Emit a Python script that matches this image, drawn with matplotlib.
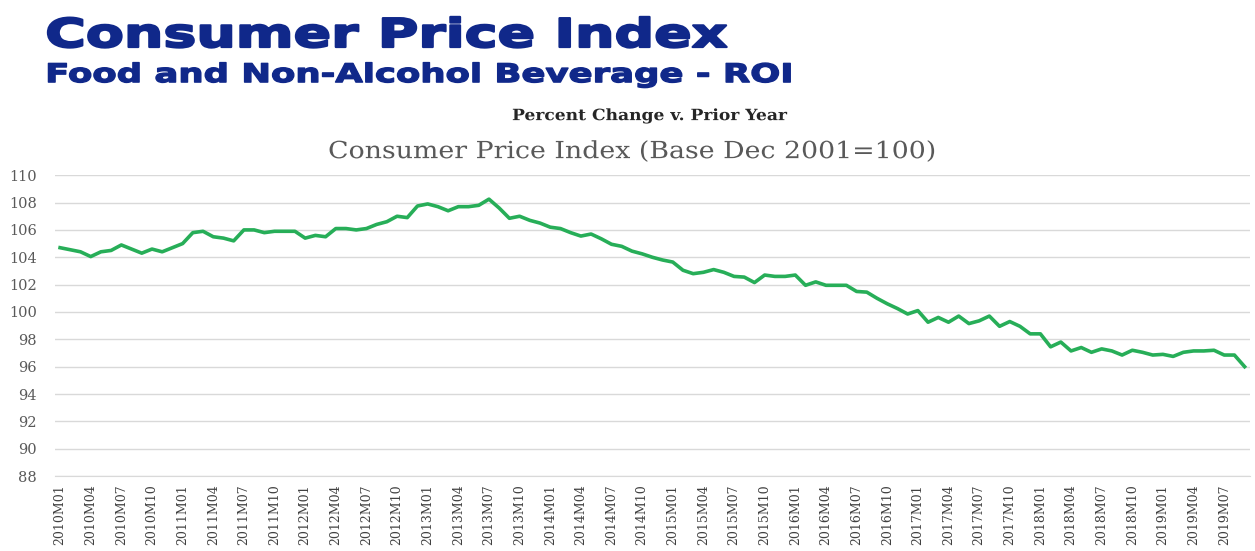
import matplotlib
matplotlib.use("Agg")
import matplotlib.pyplot as plt
from matplotlib.patheffects import AbstractPathEffect
from matplotlib.transforms import Affine2D

years = list(range(2010, 2020))
months = [f"{y}M{m:02d}" for y in years for m in range(1, 13)][:117]

cpi_2010_2012 = [104.7, 104.55, 104.4, 104.05, 104.4, 104.5, 104.9, 104.6, 104.3, 104.6, 104.4, 104.7,
                 105.0, 105.8, 105.9, 105.5, 105.4, 105.2, 106.0, 106.0, 105.8, 105.9, 105.9, 105.9,
                 105.4, 105.6, 105.5, 106.1, 106.1, 106.0, 106.1, 106.4, 106.6, 107.0, 106.9, 107.75]
cpi_2013_2016 = [107.9, 107.7, 107.4, 107.7, 107.7, 107.8, 108.25, 107.6, 106.85, 107.0, 106.7, 106.5,
                 106.2, 106.1, 105.8, 105.55, 105.7, 105.35, 104.95, 104.8, 104.45, 104.25, 104.0, 103.8,
                 103.65, 103.05, 102.8, 102.9, 103.1, 102.9, 102.6, 102.55, 102.15, 102.7, 102.6, 102.6,
                 102.7, 101.95, 102.2]
cpi_2016_2019 = [101.95, 101.95, 101.95, 101.5, 101.45, 101.0, 100.6, 100.25, 99.85, 100.1,
                 99.25, 99.6, 99.25, 99.7, 99.15, 99.35, 99.7, 98.95, 99.3, 98.95,
                 98.4, 98.4, 97.45, 97.8, 97.15, 97.4, 97.05, 97.3, 97.15, 96.85,
                 97.2, 97.05, 96.85, 96.9, 96.75, 97.05, 97.15, 97.15, 97.2, 96.85,
                 96.85, 96.0]
cpi = cpi_2010_2012 + cpi_2013_2016 + cpi_2016_2019

y_ticks = list(range(88, 111, 2))


class Stretch(AbstractPathEffect):
    """Stretch text glyphs horizontally, optionally emboldened (text stays a real Text artist)."""
    def __init__(self, sx, stroke=0.0):
        super().__init__()
        self.sx = sx
        self.stroke = stroke

    def draw_path(self, renderer, gc, tpath, affine, rgbFace=None):
        tr = Affine2D().scale(self.sx, 1.0) + affine
        if self.stroke > 0 and rgbFace is not None:
            gc0 = renderer.new_gc()
            gc0.copy_properties(gc)
            gc0.set_linewidth(self.stroke)
            gc0.set_foreground(rgbFace)
            gc0.set_joinstyle("round")
            renderer.draw_path(gc0, tpath, tr, rgbFace)
            gc0.restore()
        else:
            renderer.draw_path(gc, tpath, tr, rgbFace)


fig = plt.figure(figsize=(12.55, 5.51), dpi=100)
ax = fig.add_axes([0.0438, 0.136, 0.952, 0.546])

x = list(range(len(cpi)))
ax.plot(x, cpi, color="#27ae58", lw=2.6, solid_joinstyle="round")
ax.set_xlim(-0.5, len(cpi) - 0.5)
ax.set_ylim(88, 110)
ax.set_yticks(y_ticks)
ax.set_yticklabels([str(v) for v in y_ticks], family="DejaVu Serif", fontsize=10.5, color="#595959")
ax.set_xticks(x[::3])
ax.set_xticklabels(months[::3], rotation=90, family="DejaVu Serif", fontsize=9, color="#404040")
ax.grid(axis="y", color="#d9d9d9", lw=1)
ax.set_axisbelow(True)
for s in ["top", "right", "left"]:
    ax.spines[s].set_visible(False)
ax.spines["bottom"].set_color("#d9d9d9")
ax.tick_params(axis="both", length=0)
ax.tick_params(axis="y", pad=13)
ax.tick_params(axis="x", pad=6)

navy = "#10288a"
fig.text(0.036, 0.9147, "Consumer Price Index", family="DejaVu Sans", fontweight="bold",
         fontsize=28.5, color=navy, ha="left", va="baseline", path_effects=[Stretch(1.40, 1.6)])
fig.text(0.036, 0.851, "Food and Non-Alcohol Beverage - ROI", family="DejaVu Sans", fontweight="bold",
         fontsize=18.5, color=navy, ha="left", va="baseline", path_effects=[Stretch(1.38, 1.0)])
fig.text(0.408, 0.782, "Percent Change v. Prior Year", family="DejaVu Serif", fontweight="bold",
         fontsize=11.2, color="#262626", ha="left", va="baseline", path_effects=[Stretch(1.1)])
fig.text(0.2614, 0.713, "Consumer Price Index (Base Dec 2001=100)", family="DejaVu Serif",
         fontsize=17, color="#595959", ha="left", va="baseline", path_effects=[Stretch(1.135)])

fig.savefig("out.png", dpi=100, facecolor="white")
